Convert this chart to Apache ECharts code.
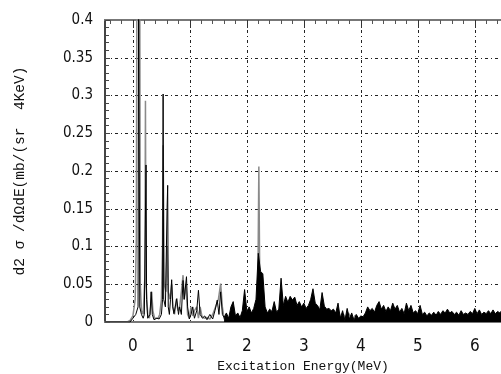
<!DOCTYPE html>
<html>
<head>
<meta charset="utf-8">
<script src="https://cdn.jsdelivr.net/npm/echarts@6/dist/echarts.min.js"></script>
<style>
html,body{margin:0;padding:0;background:#fff;}
#chart{width:501px;height:374px;}
</style>
</head>
<body>
<div id="chart"></div>
<script>
// ---- data ----
const xTickValues = [0, 1, 2, 3, 4, 5, 6];
const xMinorTickValues = [-0.4, -0.2, 0, 0.2, 0.4, 0.6, 0.8, 1, 1.2, 1.4, 1.6, 1.8, 2, 2.2, 2.4, 2.6, 2.8, 3, 3.2, 3.4, 3.6, 3.8, 4, 4.2, 4.4, 4.6, 4.8, 5, 5.2, 5.4, 5.6, 5.8, 6, 6.2, 6.4];

// grey spectrum (energy MeV, value)
const greyE = [-0.49, -0.10, -0.05, 0.00, 0.04, 0.06, 0.07, 0.12, 0.13, 0.15, 0.18, 0.21, 0.22, 0.23, 0.26, 0.29, 0.31, 0.33, 0.35, 0.38, 0.41, 0.44, 0.47, 0.50, 0.52, 0.53, 0.55, 0.58, 0.60, 0.62, 0.65, 0.68, 0.70, 0.73, 0.76, 0.79, 0.82, 0.85, 0.88, 0.90, 0.93, 0.96, 0.99, 1.02, 1.05, 1.08, 1.12, 1.15, 1.18, 1.21, 1.25, 1.30, 1.35, 1.40, 1.45, 1.50, 1.54, 1.57, 1.60, 1.70, 1.90, 2.10, 2.19, 2.21, 2.23, 2.30, 2.50, 3.00, 3.50, 3.62, 3.66, 3.70, 3.74, 3.78, 3.86, 3.90, 3.98, 4.10, 5.00, 6.46];
const greyV = [0, 0, 0.002, 0.008, 0.03, 0.11, 0.45, 0.45, 0.05, 0.015, 0.01, 0.06, 0.293, 0.05, 0.01, 0.005, 0.02, 0.04, 0.015, 0.005, 0.003, 0.005, 0.01, 0.03, 0.1, 0.234, 0.05, 0.04, 0.1, 0.04, 0.03, 0.05, 0.02, 0.01, 0.03, 0.015, 0.02, 0.04, 0.062, 0.03, 0.05, 0.01, 0.005, 0.02, 0.008, 0.015, 0.02, 0.005, 0.02, 0.008, 0.005, 0.006, 0.004, 0.01, 0.02, 0.03, 0.051, 0.02, 0.004, 0.004, 0.004, 0.008, 0.02, 0.206, 0.02, 0.008, 0.008, 0.01, 0.008, 0.012, 0.001, 0.01, 0.001, 0.012, 0.002, 0.009, 0.001, 0.004, 0.004, 0.004];

// black spectrum, low-energy part (energy MeV, value)
const blackE = [-0.49, -0.05, 0.00, 0.05, 0.09, 0.10, 0.11, 0.12, 0.15, 0.18, 0.20, 0.23, 0.24, 0.26, 0.30, 0.32, 0.34, 0.37, 0.42, 0.46, 0.50, 0.52, 0.53, 0.54, 0.57, 0.60, 0.61, 0.62, 0.64, 0.66, 0.68, 0.70, 0.72, 0.77, 0.80, 0.82, 0.85, 0.88, 0.90, 0.94, 0.96, 0.99, 1.02, 1.05, 1.08, 1.12, 1.15, 1.18, 1.22, 1.26, 1.30, 1.35, 1.40, 1.44, 1.48, 1.51, 1.54, 1.57, 1.60];
const blackV = [0, 0, 0.005, 0.01, 0.02, 0.45, 0.45, 0.02, 0.01, 0.005, 0.01, 0.208, 0.03, 0.005, 0.01, 0.04, 0.01, 0.003, 0.005, 0.004, 0.01, 0.03, 0.302, 0.03, 0.02, 0.152, 0.181, 0.02, 0.01, 0.03, 0.056, 0.02, 0.011, 0.031, 0.01, 0.02, 0.01, 0.055, 0.03, 0.06, 0.02, 0.004, 0.01, 0.02, 0.005, 0.015, 0.042, 0.01, 0.005, 0.008, 0.003, 0.01, 0.004, 0.015, 0.029, 0.01, 0.04, 0.01, 0.006];

// black spectrum, dense high-energy part: bins from 1.60 MeV every 0.04 MeV
const highStart = 1.60;
const highStep = 0.04;
const highV = [
  0.006, 0.012, 0.005, 0.020, 0.027, 0.008, 0.012, 0.006, 0.015, 0.043,
  0.014, 0.020, 0.012, 0.018, 0.030, 0.091, 0.067, 0.064, 0.020, 0.012,
  0.017, 0.014, 0.027, 0.013, 0.017, 0.058, 0.022, 0.034, 0.026, 0.034,
  0.029, 0.033, 0.022, 0.027, 0.020, 0.025, 0.018, 0.022, 0.030, 0.044,
  0.025, 0.022, 0.016, 0.039, 0.021, 0.017, 0.018, 0.015, 0.017, 0.012,
  0.025, 0.005, 0.015, 0.002, 0.018, 0.004, 0.012, 0.002, 0.010, 0.005,
  0.008, 0.007, 0.012, 0.020, 0.015, 0.018, 0.013, 0.022, 0.027, 0.017,
  0.022, 0.014, 0.020, 0.015, 0.025, 0.017, 0.022, 0.013, 0.018, 0.011,
  0.025, 0.015, 0.022, 0.012, 0.015, 0.011, 0.022, 0.010, 0.013, 0.008,
  0.012, 0.009, 0.013, 0.009, 0.014, 0.010, 0.015, 0.012, 0.017, 0.012,
  0.014, 0.010, 0.013, 0.009, 0.015, 0.010, 0.012, 0.010, 0.014, 0.011,
  0.018, 0.011, 0.016, 0.010, 0.013, 0.011, 0.015, 0.011, 0.016, 0.011,
  0.014, 0.012, 0.016
];

// ---- build ----
const zip = (xs, ys) => xs.map((x, i) => [x, ys[i]]);
const greyData = zip(greyE, greyV);
const blackData = zip(blackE, blackV);
const highData = highV.map((v, i) => [+(highStart + i * highStep).toFixed(2), v]);

const FONT = "'Liberation Sans Narrow', 'DejaVu Sans Condensed', sans-serif";
const MONO = "'Liberation Mono', 'DejaVu Sans Mono', monospace";
const X_MIN = -0.49, X_MAX = 6.46;
const GRID_LINE = {color: '#222', width: 1, type: [3, 3, 1, 3]};

const chart = echarts.init(document.getElementById('chart'), null, {renderer: 'canvas'});
chart.setOption({
  animation: false,
  backgroundColor: '#fff',
  grid: {left: 105, top: 20, right: 0, bottom: 52, containLabel: false, outerBoundsMode: 'none'},
  xAxis: [
    {
      type: 'value', position: 'bottom', min: X_MIN, max: X_MAX,
      name: 'Excitation Energy(MeV)', nameLocation: 'middle', nameGap: 36,
      nameTextStyle: {fontFamily: MONO, fontSize: 13, color: '#111'},
      axisLine: {show: true, onZero: false, lineStyle: {color: '#777', width: 2}},
      axisTick: {show: false, customValues: xTickValues},
      axisLabel: {customValues: xTickValues, fontFamily: FONT, fontSize: 17, color: '#111', margin: 16},
      splitLine: {show: true, lineStyle: GRID_LINE}
    },
    {
      type: 'value', position: 'top', min: X_MIN, max: X_MAX,
      axisLine: {show: true, onZero: false, lineStyle: {color: '#777', width: 2}},
      axisTick: {show: true, inside: true, length: 4, customValues: xMinorTickValues, lineStyle: {color: '#555', width: 1}},
      axisLabel: {show: false},
      splitLine: {show: false}
    },
    {
      type: 'value', position: 'top', min: X_MIN, max: X_MAX,
      axisLine: {show: false, onZero: false},
      axisTick: {show: true, inside: true, length: 8, customValues: xTickValues, lineStyle: {color: '#333', width: 1}},
      axisLabel: {show: false},
      splitLine: {show: false}
    }
  ],
  yAxis: {
    type: 'value', min: 0, max: 0.4, interval: 0.05,
    name: 'd2 σ /dΩdE(mb/(sr  4KeV)', nameLocation: 'middle', nameGap: 77,
    nameTextStyle: {fontFamily: MONO, fontSize: 14.5, color: '#111'},
    axisLine: {show: true, onZero: false, lineStyle: {color: '#444', width: 2}},
    axisTick: {show: true, inside: true, length: 5, lineStyle: {color: '#444'}},
    minorTick: {show: true, splitNumber: 5, length: 4, lineStyle: {color: '#444'}},
    axisLabel: {fontFamily: FONT, fontSize: 15, color: '#111', margin: 12},
    splitLine: {show: true, lineStyle: GRID_LINE}
  },
  series: [
    {
      type: 'line', xAxisIndex: 0, data: greyData, showSymbol: false, symbol: 'none',
      lineStyle: {color: '#8a8a8a', width: 1.5}, z: 2
    },
    {
      type: 'line', xAxisIndex: 0, data: blackData, showSymbol: false, symbol: 'none',
      lineStyle: {color: '#000', width: 1}, z: 3
    },
    {
      type: 'line', xAxisIndex: 0, data: highData, showSymbol: false, symbol: 'none',
      lineStyle: {color: '#000', width: 1}, areaStyle: {color: '#000', opacity: 1}, z: 3
    }
  ]
});
</script>
</body>
</html>
